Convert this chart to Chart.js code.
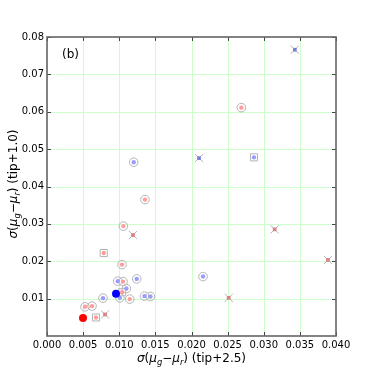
<!DOCTYPE html>
<html>
<head>
<meta charset="utf-8">
<script src="https://cdn.jsdelivr.net/npm/chart.js@4"></script>
<style>
html,body{margin:0;padding:0;background:#fff;}
#wrap{width:374px;height:374px;}
</style>
</head>
<body>
<div id="wrap"><canvas id="c" width="374" height="374"></canvas></div>
<script>
// ---- data (x = sigma tip+2.5, y = sigma tip+1.0) ----
const redCircles = [[0.0269,0.0611],[0.01356,0.0365],[0.01057,0.0294],[0.01038,0.0191],[0.01052,0.01456],[0.01145,0.00987],[0.00526,0.00781],[0.00623,0.0080]];
const blueCircles = [[0.0120,0.0465],[0.00979,0.01467],[0.01242,0.01528],[0.0216,0.0159],[0.01099,0.01269],[0.0101,0.01021],[0.00775,0.01013],[0.01348,0.01067],[0.01431,0.01056]];
const redSquares = [[0.00785,0.0222],[0.0104,0.0117],[0.00678,0.00496]];
const blueSquares = [[0.02865,0.0478]];
const redCrosses = [[0.0119,0.0270],[0.00803,0.00576],[0.02515,0.01021],[0.03151,0.02853],[0.03889,0.02035]];
const blueCrosses = [[0.0343,0.0766],[0.02104,0.0476]];
const redFilled = [[0.00498,0.0048]];
const blueFilled = [[0.00955,0.01128]];
const xTicks = [0,0.005,0.010,0.015,0.020,0.025,0.030,0.035,0.040];
const yTicks = [0.01,0.02,0.03,0.04,0.05,0.06,0.07,0.08];
const panelLabel = '(b)';

const pts = a => a.map(p => ({x:p[0], y:p[1]}));
const GRAY = '#b4b4b4';
const PINK = '#ff9c9c';
const LBLUE = '#9c9cff';
const DRED = '#d98080';
const DBLUE = '#7c7cd6';

function ds(data, style, r, bg, border, bw, order){
  return {data:pts(data), pointStyle:style, pointRadius:r, pointHoverRadius:r,
    backgroundColor:bg, borderColor:border, pointBorderWidth:bw, borderWidth:bw, order:order, showLine:false};
}

const datasets = [
  ds(redCircles,'circle',4.3,'rgba(0,0,0,0)',GRAY,1,5),
  ds(blueCircles,'circle',4.3,'rgba(0,0,0,0)',GRAY,1,5),
  ds(redSquares,'rect',5,'rgba(0,0,0,0)',GRAY,1,5),
  ds(blueSquares,'rect',5,'rgba(0,0,0,0)',GRAY,1,5),
  ds(redCrosses,'crossRot',5.8,GRAY,GRAY,1,5),
  ds(blueCrosses,'crossRot',5.8,GRAY,GRAY,1,5),
  ds(redCircles,'circle',2.2,PINK,PINK,0,3),
  ds(blueCircles,'circle',2.2,LBLUE,LBLUE,0,3),
  ds(redSquares,'circle',2.2,PINK,PINK,0,3),
  ds(blueSquares,'circle',2.2,LBLUE,LBLUE,0,3),
  ds(redCrosses,'rect',2.6,DRED,DRED,0,3),
  ds(blueCrosses,'rect',2.6,DBLUE,DBLUE,0,3),
  ds(redFilled,'circle',4,'#ff0000','#ff0000',0,1),
  ds(blueFilled,'circle',4,'#0000ff','#0000ff',0,1)
];

function drawMath(ctx, segs, size){
  const parts = segs.map(s => {
    const fs = s[2] ? size*0.7 : size;
    const font = (s[1] ? 'italic ' : '') + fs + 'px "DejaVu Sans"';
    ctx.font = font;
    return {t:s[0], font:font, w:ctx.measureText(s[0]).width, dy: s[2] ? size*0.25 : 0};
  });
  const total = parts.reduce((a,p)=>a+p.w,0);
  let x = -total/2;
  parts.forEach(p => { ctx.font = p.font; ctx.fillText(p.t, x, p.dy); x += p.w; });
}

const gridPlugin = {
  id:'gridPlugin',
  beforeDatasetsDraw(chart){
    const ctx = chart.ctx, a = chart.chartArea;
    const xs = chart.scales.x, ys = chart.scales.y;
    ctx.save();
    ctx.beginPath();
    ctx.rect(a.left, a.top, a.right-a.left, a.bottom-a.top);
    ctx.clip();
    ctx.strokeStyle = '#ccffcc'; ctx.lineWidth = 1;
    ctx.beginPath();
    xTicks.forEach(v => { const px = Math.round(xs.getPixelForValue(v))+0.5;
      ctx.moveTo(px,a.top); ctx.lineTo(px,a.bottom); });
    yTicks.forEach(v => { const py = Math.round(ys.getPixelForValue(v))+0.5;
      ctx.moveTo(a.left,py); ctx.lineTo(a.right,py); });
    ctx.stroke();
    ctx.restore();
  }
};

const decor = {
  id:'decor',
  afterDraw(chart){
    const ctx = chart.ctx, a = chart.chartArea;
    const xs = chart.scales.x, ys = chart.scales.y;
    ctx.save();
    ctx.strokeStyle = '#444'; ctx.lineWidth = 1;
    ctx.beginPath();
    xTicks.forEach(v => { const px = Math.round(xs.getPixelForValue(v))+0.5;
      ctx.moveTo(px,a.bottom); ctx.lineTo(px,a.bottom-4);
      ctx.moveTo(px,a.top); ctx.lineTo(px,a.top+4); });
    yTicks.forEach(v => { const py = Math.round(ys.getPixelForValue(v))+0.5;
      ctx.moveTo(a.left,py); ctx.lineTo(a.left+4,py);
      ctx.moveTo(a.right,py); ctx.lineTo(a.right-4,py); });
    ctx.stroke();
    ctx.strokeStyle = '#666'; ctx.lineWidth = 1.6;
    ctx.strokeRect(a.left, a.top, a.right-a.left, a.bottom-a.top);
    ctx.fillStyle = '#000';
    ctx.font = '12px "DejaVu Sans"';
    ctx.textBaseline = 'middle'; ctx.textAlign = 'left';
    ctx.fillText(panelLabel, a.left+15, a.top+18);
    ctx.textBaseline = 'alphabetic';
    ctx.save();
    ctx.translate((a.left+a.right)/2, 362);
    drawMath(ctx, [['σ',true,false],['(',false,false],['μ',true,false],['g',true,true],['−',false,false],['μ',true,false],['r',true,true],[')',false,false],[' (tip+2.5)',false,false]], 12);
    ctx.restore();
    ctx.save();
    ctx.translate(17, 184);
    ctx.rotate(-Math.PI/2);
    drawMath(ctx, [['σ',true,false],['(',false,false],['μ',true,false],['g',true,true],['−',false,false],['μ',true,false],['r',true,true],[')',false,false],[' (tip+1.0)',false,false]], 12);
    ctx.restore();
    ctx.restore();
  }
};

new Chart(document.getElementById('c'), {
  type:'scatter',
  data:{datasets:datasets},
  options:{
    responsive:false, animation:false, devicePixelRatio:1,
    layout:{padding:{top:37,right:38,left:0,bottom:0}},
    plugins:{legend:{display:false}, tooltip:{enabled:false}},
    scales:{
      x:{type:'linear', min:0, max:0.04,
        afterFit(s){ s.height = 38; },
        afterBuildTicks(s){ s.ticks = xTicks.map(v=>({value:v})); },
        ticks:{callback:v=>v.toFixed(3), color:'#000', font:{family:'DejaVu Sans', size:10}, padding:3, maxRotation:0, autoSkip:false},
        grid:{display:false, drawTicks:false},
        border:{display:false}},
      y:{type:'linear', min:0, max:0.08,
        afterFit(s){ s.width = 47; },
        afterBuildTicks(s){ s.ticks = [0].concat(yTicks).map(v=>({value:v})); },
        ticks:{callback:v=>Math.abs(v)<1e-9?'':v.toFixed(2), color:'#000', font:{family:'DejaVu Sans', size:10}, padding:3, autoSkip:false},
        grid:{display:false, drawTicks:false},
        border:{display:false}}
    }
  },
  plugins:[gridPlugin, decor]
});
</script>
</body>
</html>
